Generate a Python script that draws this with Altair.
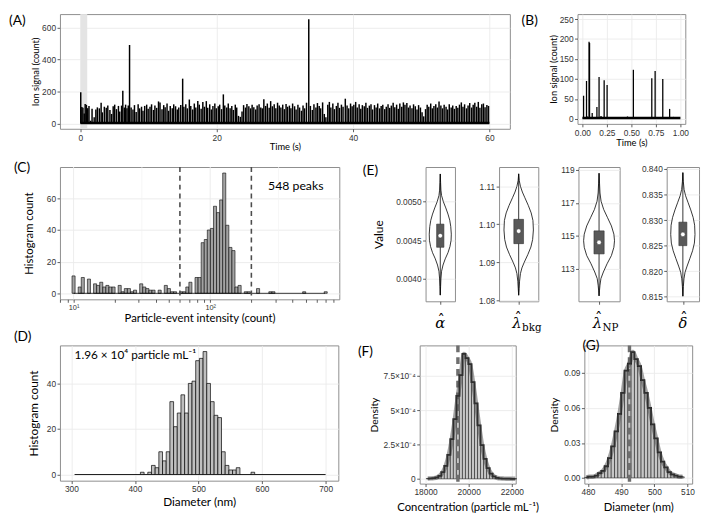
import altair as alt
import pandas as pd

TF = "Lato"
LF = "Liberation Sans"
SF = "DejaVu Serif"

# ---------------- (A) time trace ----------------
a_spikes_00_10 = [
    (0.05, 195), (0.21, 104), (0.37, 98), (0.56, 62), (0.70, 122), (0.88, 117),
    (1.07, 96), (1.26, 110), (1.49, 18), (1.71, 92), (2.02, 40), (2.27, 88),
    (2.49, 101), (2.78, 95), (3.04, 130), (3.22, 70), (3.51, 105), (3.79, 98),
    (4.02, 112), (4.33, 85), (4.57, 60), (4.81, 108), (5.03, 118), (5.29, 90),
    (5.58, 110), (5.77, 75), (6.04, 112), (6.22, 205), (6.45, 100), (6.63, 118),
    (6.83, 95), (7.02, 112), (7.21, 490), (7.44, 100), (7.71, 88), (7.93, 115),
    (8.18, 72), (8.47, 120), (8.69, 95), (8.97, 105), (9.18, 80), (9.43, 110),
    (9.72, 118), (9.94, 92)]
a_spikes_10_20 = [
    (10.21, 105), (10.44, 120), (10.72, 85), (10.93, 112), (11.19, 98), (11.46, 138),
    (11.68, 132), (11.97, 90), (12.22, 115), (12.43, 102), (12.71, 125), (12.94, 80),
    (13.18, 110), (13.47, 95), (13.69, 120), (13.96, 108), (14.21, 88), (14.43, 100),
    (14.72, 115), (15.00, 280), (15.18, 105), (15.46, 120), (15.69, 95), (15.98, 150),
    (16.19, 110), (16.47, 88), (16.71, 125), (16.93, 100), (17.22, 140), (17.44, 118),
    (17.71, 92), (17.96, 135), (18.19, 105), (18.47, 140), (18.68, 98), (18.97, 120),
    (19.21, 88), (19.44, 110), (19.72, 125), (19.93, 95)]
a_spikes_20_30 = [
    (20.22, 108), (20.43, 118), (20.71, 90), (20.97, 182), (21.18, 112), (21.47, 100),
    (21.69, 125), (21.96, 95), (22.21, 110), (22.44, 85), (22.72, 118), (22.93, 100),
    (23.19, 48), (23.46, 42), (23.71, 75), (23.94, 115), (24.22, 100), (24.43, 122),
    (24.71, 108), (24.97, 95), (25.19, 118), (25.44, 102), (25.72, 88), (25.93, 112),
    (26.21, 120), (26.46, 100), (26.68, 95), (26.91, 152), (27.17, 110), (27.42, 125),
    (27.69, 98), (27.91, 140), (28.16, 108), (28.43, 120), (28.67, 95), (28.92, 130),
    (29.17, 112), (29.41, 100), (29.68, 118), (29.92, 90)]
a_spikes_30_40 = [
    (30.17, 122), (30.39, 105), (30.66, 112), (30.88, 95), (31.13, 125), (31.42, 108),
    (31.64, 88), (31.91, 118), (32.15, 100), (32.43, 80), (32.66, 112), (32.89, 95),
    (33.17, 130), (33.50, 650), (33.74, 110), (34.02, 85), (34.26, 120), (34.55, 100),
    (34.77, 128), (35.03, 110), (35.24, 95), (35.53, 132), (35.78, 60), (36.01, 40),
    (36.29, 118), (36.52, 135), (36.74, 100), (37.03, 125), (37.26, 90), (37.55, 110),
    (37.78, 130), (38.01, 98), (38.29, 118), (38.53, 105), (38.86, 155), (39.12, 112),
    (39.36, 95), (39.63, 125), (39.86, 108)]
a_spikes_40_50 = [
    (40.11, 118), (40.38, 135), (40.61, 100), (40.89, 120), (41.13, 92), (41.36, 115),
    (41.64, 108), (41.88, 130), (42.11, 98), (42.39, 112), (42.63, 120), (42.86, 88),
    (43.14, 115), (43.38, 100), (43.61, 125), (43.89, 95), (44.12, 110), (44.36, 118),
    (44.64, 90), (44.87, 105), (45.13, 120), (45.37, 98), (45.61, 112), (45.88, 130),
    (46.12, 102), (46.39, 118), (46.63, 92), (46.86, 125), (47.14, 105), (47.38, 132),
    (47.61, 118), (47.89, 128), (48.12, 100), (48.36, 112), (48.64, 95), (48.87, 120),
    (49.13, 108), (49.38, 88), (49.61, 115), (49.88, 100)]
a_spikes_50_60 = [
    (50.12, 70), (50.36, 45), (50.63, 90), (50.87, 118), (51.11, 105), (51.39, 125),
    (51.62, 95), (51.86, 110), (52.13, 120), (52.37, 100), (52.61, 138), (52.88, 112),
    (53.12, 95), (53.36, 118), (53.64, 105), (53.87, 88), (54.11, 120), (54.39, 100),
    (54.62, 112), (54.86, 92), (55.13, 110), (55.37, 98), (55.61, 118), (55.88, 132),
    (56.12, 105), (56.36, 120), (56.64, 95), (56.87, 112), (57.11, 128), (57.39, 100),
    (57.62, 118), (57.86, 130), (58.13, 105), (58.37, 135), (58.61, 98), (58.88, 120),
    (59.12, 125), (59.36, 102), (59.63, 115), (59.87, 110)]
a_background = 3
a_window = [0.0, 1.0]
a_span = [0, 60]
a_x_ticks = [0, 20, 40, 60]
a_y_ticks = [0, 200, 400, 600]

# ---------------- (B) first second ----------------
b_spikes = [
    (0.012, 58), (0.042, 95), (0.068, 193), (0.073, 190), (0.100, 15), (0.148, 30),
    (0.170, 105), (0.222, 97), (0.252, 85), (0.520, 123), (0.708, 102), (0.742, 120),
    (0.820, 100), (0.862, 5), (0.890, 25),
    (0.05, 6), (0.13, 5), (0.19, 7), (0.28, 5), (0.30, 4), (0.35, 3), (0.40, 4),
    (0.46, 6), (0.58, 4), (0.63, 5), (0.68, 3), (0.78, 4), (0.93, 5), (0.97, 4)]
b_background = 2
b_span = [0, 1]
b_x_ticks = [0, 0.25, 0.5, 0.75, 1.0]
b_y_ticks = [0, 50, 100, 150, 200, 250]

# ---------------- (C) intensity histogram (log bins) ----------------
c_bin_index = [0, 2, 3, 5, 7, 8, 9, 10, 11, 12, 13, 15, 16, 17, 18, 19, 20, 22, 23, 24,
               25, 26, 28, 30, 31, 32, 33, 35, 36, 37, 38, 40, 41, 42, 43, 44, 45, 46, 47, 48,
               49, 50, 51, 52, 53, 54, 56, 57, 60, 64, 65, 75, 82]
c_counts = [11, 4, 10, 9, 6, 5, 7, 4, 5, 4, 4, 5, 1, 3, 3, 1, 2, 6, 4, 3,
            2, 2, 2, 5, 3, 1, 1, 1, 1, 4, 7, 10, 10, 32, 34, 40, 41, 55, 51, 59,
            76, 43, 29, 27, 4, 5, 1, 1, 3, 1, 1, 1, 1]
c_log_binwidth = 0.0225
c_log_first_center = 1.0
c_cutoffs = [60, 200]
c_span = [10, 690]
c_major_grid = [10, 100]
c_minor_grid = [31.62, 316.2]
c_x_ticks = [8, 9, 10, 20, 30, 40, 50, 60, 70, 80, 90, 100, 200, 300, 400, 500, 600, 700, 800]
c_y_ticks = [0, 20, 40, 60]
c_note = "548 peaks"
c_note_at = [265, 68]

# ---------------- (D) diameter histogram ----------------
d_bin_centers = [411.5, 423.1, 428.9, 434.7, 440.5, 446.3, 452.1, 457.9, 463.7, 469.5,
                 475.3, 481.1, 486.9, 492.7, 498.5, 504.3, 510.1, 515.9, 521.7, 527.5,
                 533.3, 539.1, 544.9, 550.7, 556.5, 562.3, 585.5]
d_counts = [1, 1, 4, 3, 10, 6, 10, 32, 21, 27, 35, 27, 40, 41, 50, 51, 54, 40, 32, 26,
            25, 10, 4, 2, 2, 3, 1]
d_binwidth = 5.8
d_span = [305, 700]
d_x_ticks = [300, 400, 500, 600, 700]
d_y_ticks = [0, 20, 40]
d_note = "1.96 × 10⁴ particle mL⁻¹"
d_note_at = [305, 52.5]

# ---------------- (E) posterior violins ----------------
e1_value = [0.00379, 0.00390, 0.00400, 0.00410, 0.00418, 0.00426, 0.00434, 0.00442, 0.00450,
            0.00458, 0.00468, 0.00476, 0.00484, 0.00492, 0.00500, 0.00508, 0.00515, 0.00525, 0.00536]
e1_width = [0.0, 0.03, 0.06, 0.12, 0.25, 0.45, 0.70, 0.88, 0.98,
            1.00, 0.95, 0.86, 0.70, 0.50, 0.28, 0.12, 0.06, 0.03, 0.0]
e2_value = [1.0813, 1.0830, 1.0850, 1.0870, 1.0885, 1.0900, 1.0920, 1.0940, 1.0960,
            1.0985, 1.1010, 1.1030, 1.1050, 1.1070, 1.1085, 1.1100, 1.1115, 1.1133]
e2_width = [0.0, 0.03, 0.06, 0.12, 0.22, 0.38, 0.62, 0.83, 0.95,
            1.00, 0.97, 0.85, 0.65, 0.42, 0.25, 0.12, 0.04, 0.0]
e3_value = [111.35, 111.7, 112.0, 112.4, 112.8, 113.3, 113.8, 114.3, 114.7,
            115.1, 115.6, 116.1, 116.6, 117.1, 117.6, 118.2, 118.8]
e3_width = [0.0, 0.03, 0.06, 0.12, 0.28, 0.52, 0.80, 0.96, 1.00,
            0.96, 0.80, 0.55, 0.30, 0.13, 0.06, 0.03, 0.0]
e4_value = [0.8151, 0.8170, 0.8185, 0.8198, 0.8210, 0.8225, 0.8240, 0.8255, 0.8272,
            0.8290, 0.8305, 0.8320, 0.8335, 0.8348, 0.8360, 0.8375, 0.8393]
e4_width = [0.0, 0.04, 0.09, 0.18, 0.35, 0.58, 0.80, 0.95, 1.00,
            0.97, 0.85, 0.65, 0.42, 0.22, 0.10, 0.04, 0.0]
e_min = [0.00379, 1.0813, 111.35, 0.8151]
e_q1 = [0.00441, 1.0949, 113.9, 0.8250]
e_median = [0.00456, 1.0982, 114.6, 0.8272]
e_q3 = [0.00471, 1.1013, 115.3, 0.8296]
e_max = [0.00536, 1.1133, 118.8, 0.8393]
e_symbol = ["α", "λ", "λ", "δ"]
e_subscript = ["", "bkg", "NP", ""]
e_y_domain = [[0.00371, 0.00545], [1.0797, 1.1151], [111.02, 119.18], [0.8141, 0.8404]]
e_y_ticks = [[0.0040, 0.0045, 0.0050], [1.08, 1.09, 1.10, 1.11], [113, 115, 117, 119],
             [0.815, 0.820, 0.825, 0.830, 0.835, 0.840]]
e_y_format = [".4f", ".2f", "d", ".3f"]

# ---------------- (F) concentration posterior ----------------
f_bin_centers = [18100, 18240, 18380, 18520, 18660, 18800, 18940, 19080, 19220, 19360,
                 19500, 19640, 19780, 19920, 20060, 20200, 20340, 20480, 20620, 20760,
                 20900, 21040, 21180, 21320, 21460, 21600, 21740, 21880, 22020, 22160]
f_density_e4 = [0.02, 0.03, 0.05, 0.10, 0.22, 0.48, 0.95, 1.75, 2.90, 4.35,
                6.05, 7.55, 9.10, 8.80, 8.35, 7.05, 5.50, 3.90, 2.45, 1.45,
                0.78, 0.38, 0.17, 0.07, 0.03, 0.02, 0.01, 0.01, 0.00, 0.00]
f_binwidth = 140
f_estimate = 19500
f_x_ticks = [18000, 20000, 22000]
f_y_ticks = [0, 0.00025, 0.0005, 0.00075]

# ---------------- (G) diameter posterior ----------------
g_bin_centers = [479.5, 480.5, 481.5, 482.5, 483.5, 484.5, 485.5, 486.5, 487.5, 488.5,
                 489.5, 490.5, 491.5, 492.5, 493.5, 494.5, 495.5, 496.5, 497.5, 498.5,
                 499.5, 500.5, 501.5, 502.5, 503.5, 504.5, 505.5, 506.5, 507.5, 508.5]
g_density = [0.0005, 0.001, 0.001, 0.002, 0.004, 0.006, 0.010, 0.017, 0.027, 0.040,
             0.055, 0.073, 0.092, 0.098, 0.108, 0.102, 0.096, 0.084, 0.073, 0.060,
             0.046, 0.034, 0.022, 0.014, 0.009, 0.005, 0.003, 0.002, 0.001, 0.001]
g_binwidth = 1.0
g_estimate = 492.5
g_x_ticks = [480, 490, 500, 510]
g_y_ticks = [0, 0.03, 0.06, 0.09]

# ======================================================================
ONE = [{"k": 0}]


def ax(title, values, tsize=11.5, tpad=2, lsize=8.5, **kw):
    p = dict(values=values, tickCount=len(values) + 1, tickSize=3, tickColor="#333333",
             tickWidth=0.8, labelFont=LF, labelFontSize=lsize, labelColor="#333333",
             labelPadding=1.5, labelOverlap=False, labelFlush=False,
             domain=False, grid=True, gridColor="#ebebeb", gridWidth=0.9,
             titleFont=TF, titleFontSize=tsize, titleFontWeight=400,
             titleColor="black", titlePadding=tpad)
    p.update(kw)
    return alt.Axis(title=title, **p)


def box(x0, x1, y0, y1):
    # invisible layout cell that fixes each panel's footprint in the concatenation
    return alt.Chart(alt.Data(values=ONE)).mark_rect(opacity=0).encode(
        x=alt.value(x0), x2=alt.value(x1), y=alt.value(y0), y2=alt.value(y1))


def tag(txt_, dx, dy):
    return alt.Chart(alt.Data(values=ONE)).mark_text(
        text=txt_, align="left", baseline="top", font=TF, fontSize=14, color="black"
    ).encode(x=alt.value(dx), y=alt.value(dy))


def txt(s, x, y, align="left", font=TF, size=12, style="normal"):
    return alt.Chart(alt.Data(values=ONE)).mark_text(
        text=s, align=align, baseline="alphabetic", font=font, fontSize=size,
        fontStyle=style, color="black").encode(x=alt.value(x), y=alt.value(y))


# ---------------- panel A ----------------
A_W, A_H = 459, 117
dfA = pd.DataFrame(a_spikes_00_10 + a_spikes_10_20 + a_spikes_20_30 + a_spikes_30_40
                   + a_spikes_40_50 + a_spikes_50_60, columns=["t", "h"])
dfA["z"] = 0
sxA = alt.Scale(domain=[-3, 63], nice=False, zero=False)
syA = alt.Scale(domain=[-32.5, 682.5], nice=False, zero=False)
A_win = alt.Chart(pd.DataFrame({"t": [a_window[0]], "t2": [a_window[1]]})).mark_rect(
    color="#e4e4e4").encode(
    x=alt.X("t:Q", scale=sxA, axis=ax("Time (s)", a_x_ticks, tsize=9.5, tpad=0)),
    x2="t2:Q")
A_spk = alt.Chart(dfA).mark_rule(color="black", strokeWidth=1.5).encode(
    x=alt.X("t:Q", scale=sxA),
    y=alt.Y("z:Q", scale=syA, axis=ax("Ion signal (count)", a_y_ticks, tsize=9.5, tpad=1)),
    y2="h:Q")
A_bg = alt.Chart(pd.DataFrame({"t": [a_span[0]], "t2": [a_span[1]], "h": [a_background]})).mark_rule(
    color="black", strokeWidth=2.5).encode(
    x=alt.X("t:Q", scale=sxA), x2="t2:Q", y=alt.Y("h:Q", scale=syA))
panelA = alt.layer(box(-52, 469, 0, 152), A_win, A_spk, A_bg, tag("(A)", -52, 0)).properties(
    width=A_W, height=A_H)

# ---------------- panel B ----------------
B_W, B_H = 110, 112
dfB = pd.DataFrame(b_spikes, columns=["t", "h"])
dfB["z"] = 0
sxB = alt.Scale(domain=[-0.05, 1.05], nice=False, zero=False)
syB = alt.Scale(domain=[-12.5, 262.5], nice=False, zero=False)
B_spk = alt.Chart(dfB).mark_rule(color="black", strokeWidth=1.3).encode(
    x=alt.X("t:Q", scale=sxB, axis=ax("Time (s)", b_x_ticks, tsize=9.5, tpad=1, format=".2f")),
    y=alt.Y("z:Q", scale=syB, axis=ax("Ion signal (count)", b_y_ticks, tsize=9.5, tpad=1)),
    y2="h:Q")
B_bg = alt.Chart(pd.DataFrame({"t": [b_span[0]], "t2": [b_span[1]], "h": [b_background]})).mark_rule(
    color="black", strokeWidth=2.5).encode(
    x=alt.X("t:Q", scale=sxB), x2="t2:Q", y=alt.Y("h:Q", scale=syB))
panelB = alt.layer(box(-57, 114, 0, 152), B_spk, B_bg, tag("(B)", -57, 0)).properties(
    width=B_W, height=B_H)

# ---------------- panel C ----------------
C_W, C_H = 285, 135
dfC = pd.DataFrame({"k": c_bin_index, "n": c_counts})
dfC["lo"] = 10 ** (c_log_first_center + dfC["k"] * c_log_binwidth - c_log_binwidth / 2)
dfC["hi"] = 10 ** (c_log_first_center + dfC["k"] * c_log_binwidth + c_log_binwidth / 2)
dfC["z"] = 0
sxC = alt.Scale(type="log", domain=[7.95, 880], nice=False)
syC = alt.Scale(domain=[-3.8, 79.8], nice=False, zero=False)
c_lab = "datum.value == 10 ? '10¹' : (datum.value == 100 ? '10²' : '')"
C_minor = alt.Chart(pd.DataFrame({"g": c_minor_grid})).mark_rule(color="#f2f2f2", strokeWidth=0.7).encode(
    x=alt.X("g:Q", scale=sxC, axis=ax("Particle-event intensity (count)", c_x_ticks, tsize=11.5,
                                      tpad=2, lsize=7.5, grid=False, labelExpr=c_lab)))
C_major = alt.Chart(pd.DataFrame({"g": c_major_grid})).mark_rule(color="#ebebeb", strokeWidth=0.9).encode(
    x=alt.X("g:Q", scale=sxC))
C_bars = alt.Chart(dfC).mark_rect(fill="#a3a3a3", stroke="black", strokeWidth=0.6).encode(
    x=alt.X("lo:Q", scale=sxC), x2="hi:Q",
    y=alt.Y("z:Q", scale=syC, axis=ax("Histogram count", c_y_ticks, tsize=11.5, tpad=12)),
    y2="n:Q")
C_base = alt.Chart(pd.DataFrame({"g": [c_span[0]], "g2": [c_span[1]], "z": [0]})).mark_rule(
    color="black", strokeWidth=0.8).encode(x=alt.X("g:Q", scale=sxC), x2="g2:Q", y=alt.Y("z:Q", scale=syC))
C_cut = alt.Chart(pd.DataFrame({"g": c_cutoffs})).mark_rule(
    color="#4d4d4d", strokeWidth=1.6, strokeDash=[5, 4]).encode(x=alt.X("g:Q", scale=sxC))
C_txt = alt.Chart(pd.DataFrame({"g": [c_note_at[0]], "z": [c_note_at[1]], "s": [c_note]})).mark_text(
    align="left", baseline="middle", font=TF, fontSize=12.5, color="black").encode(
    x=alt.X("g:Q", scale=sxC), y=alt.Y("z:Q", scale=syC), text="s:N")
panelC = alt.layer(box(-47, 290, -12, 170), C_minor, C_major, C_bars, C_base, C_cut, C_txt,
                   tag("(C)", -47, -6)).properties(width=C_W, height=C_H)

# ---------------- panel D ----------------
D_W, D_H = 284, 138
dfD = pd.DataFrame({"c": d_bin_centers, "n": d_counts})
dfD["lo"] = dfD["c"] - d_binwidth / 2
dfD["hi"] = dfD["c"] + d_binwidth / 2
dfD["z"] = 0
sxD = alt.Scale(domain=[282, 720], nice=False, zero=False)
syD = alt.Scale(domain=[-2.7, 56.7], nice=False, zero=False)
D_base = alt.Chart(pd.DataFrame({"g": [d_span[0]], "g2": [d_span[1]], "z": [0]})).mark_rule(
    color="black", strokeWidth=0.9).encode(
    x=alt.X("g:Q", scale=sxD, axis=ax("Diameter (nm)", d_x_ticks, tsize=12, tpad=3)),
    x2="g2:Q", y=alt.Y("z:Q", scale=syD))
D_bars = alt.Chart(dfD).mark_rect(fill="#bfbfbf", stroke="black", strokeWidth=0.7).encode(
    x=alt.X("lo:Q", scale=sxD), x2="hi:Q",
    y=alt.Y("z:Q", scale=syD, axis=ax("Histogram count", d_y_ticks, tsize=12, tpad=6)),
    y2="n:Q")
D_txt = alt.Chart(pd.DataFrame({"g": [d_note_at[0]], "z": [d_note_at[1]], "s": [d_note]})).mark_text(
    align="left", baseline="middle", font=TF, fontSize=12, color="black").encode(
    x=alt.X("g:Q", scale=sxD), y=alt.Y("z:Q", scale=syD), text="s:N")
panelD = alt.layer(box(-47, 290, -17, 168), D_base, D_bars, D_txt, tag("(D)", -47, -16)).properties(
    width=D_W, height=D_H)

# ---------------- panels E ----------------
E_H = 137
e_frames_w = [30, 40, 42, 33]
e_boxes = [(-81, 34), (-39, 46), (-33, 47), (-41, 34)]
e_vals = [(e1_value, e1_width), (e2_value, e2_width), (e3_value, e3_width), (e4_value, e4_width)]
e_panels = []
for i in range(4):
    fw = e_frames_w[i]
    vals, wids = e_vals[i]
    dfV = pd.DataFrame({"v": vals, "w": wids})
    dfV["wl"] = -dfV["w"]
    sxE = alt.Scale(domain=[-1.333, 1.333], nice=False, zero=False)
    syE = alt.Scale(domain=e_y_domain[i], nice=False, zero=False)
    ytitle = "Value" if i == 0 else None
    y_ax = ax(ytitle, e_y_ticks[i], tsize=12, tpad=10, format=e_y_format[i])
    x_ax = ax(None, [0], grid=False, labels=False)
    vio = alt.Chart(dfV).mark_area(orient="horizontal", fill="white", stroke="black",
                                   strokeWidth=0.8).encode(
        y=alt.Y("v:Q", scale=syE, axis=y_ax),
        x=alt.X("wl:Q", scale=sxE, axis=x_ax), x2="w:Q")
    st = pd.DataFrame({"x0": [-0.33], "x1": [0.33], "c": [0], "mn": [e_min[i]], "q1": [e_q1[i]],
                       "md": [e_median[i]], "q3": [e_q3[i]], "mx": [e_max[i]]})
    whisk = alt.Chart(st).mark_rule(color="black", strokeWidth=0.8).encode(
        x=alt.X("c:Q", scale=sxE), y=alt.Y("mn:Q", scale=syE), y2="mx:Q")
    bx = alt.Chart(st).mark_rect(fill="#595959", stroke="#333333", strokeWidth=0.6).encode(
        x=alt.X("x0:Q", scale=sxE), x2="x1:Q", y=alt.Y("q1:Q", scale=syE), y2="q3:Q")
    med = alt.Chart(st).mark_point(filled=True, fill="white", stroke="#333333", strokeWidth=0.5,
                                   size=22, opacity=1, shape="circle").encode(
        x=alt.X("c:Q", scale=sxE), y=alt.Y("md:Q", scale=syE))
    layers = [box(e_boxes[i][0], e_boxes[i][1], -9, 173), vio, whisk, bx, med]
    base_y = E_H + 27
    if e_subscript[i]:
        cx = fw / 2 + 3
        layers.append(txt(e_symbol[i], cx, base_y, align="right", font=SF, size=15, style="italic"))
        layers.append(txt("ˆ", cx - 3.5, base_y - 5, align="center", font=SF, size=15))
        layers.append(txt(e_subscript[i], cx + 0.5, base_y + 3, align="left", font=SF, size=10.5))
    else:
        cx = fw / 2
        layers.append(txt(e_symbol[i], cx, base_y, align="center", font=SF, size=15, style="italic"))
        layers.append(txt("ˆ", cx + 1, base_y - 3 if i == 0 else base_y - 5, align="center",
                          font=SF, size=15))
    if i == 0:
        layers.append(tag("(E)", -64, -3))
    e_panels.append(alt.layer(*layers).properties(width=fw, height=E_H))


# ---------------- panels F, G ----------------
def post_panel(centers, dens, bw, est, xdom, ydom, xticks, yticks, xtitle, w, h, bxr, tg, tgxy,
               ylab, xlab):
    df = pd.DataFrame({"c": centers, "d": dens})
    df["lo"] = df["c"] - bw / 2
    df["hi"] = df["c"] + bw / 2
    df["z"] = 0
    sx = alt.Scale(domain=xdom, nice=False, zero=False)
    sy = alt.Scale(domain=ydom, nice=False, zero=False)
    bars = alt.Chart(df).mark_rect(fill="#c6c6c6", stroke="black", strokeWidth=0.5).encode(
        x=alt.X("lo:Q", scale=sx, axis=ax(xtitle, xticks, tsize=11.5, tpad=5, **xlab)), x2="hi:Q",
        y=alt.Y("z:Q", scale=sy, axis=ax("Density", yticks, tsize=10.5, tpad=4, **ylab)), y2="d:Q")
    dash = alt.Chart(pd.DataFrame({"e": [est]})).mark_rule(
        color="#6e6e6e", strokeWidth=3.5, strokeDash=[7, 5]).encode(x=alt.X("e:Q", scale=sx))
    step = alt.Chart(df).mark_line(interpolate="step", color="black", strokeWidth=1.8).encode(
        x=alt.X("c:Q", scale=sx), y=alt.Y("d:Q", scale=sy))
    smooth = alt.Chart(df).mark_line(interpolate="monotone", color="#555555", strokeWidth=4.5,
                                     opacity=0.55).encode(
        x=alt.X("c:Q", scale=sx), y=alt.Y("d:Q", scale=sy))
    return alt.layer(box(bxr[0], bxr[1], bxr[2], bxr[3]), bars, dash, step, smooth,
                     tag(tg, tgxy[0], tgxy[1])).properties(width=w, height=h)


f_lab = dict(labelExpr="datum.value == 0 ? '0' : format(datum.value * 10000, '.2~f') + '×10⁻⁴'")
panelF = post_panel(f_bin_centers, [v * 1e-4 for v in f_density_e4], f_binwidth, f_estimate,
                    [17727, 22182], [-0.000035, 0.000972], f_x_ticks, f_y_ticks,
                    "Concentration (particle mL⁻¹)", 98, 141, (-75, 126, -8, 177), "(F)", (-63, 0),
                    f_lab, dict(format="d"))
panelG = post_panel(g_bin_centers, g_density, g_binwidth, g_estimate,
                    [478.9, 511.4], [-0.0049, 0.1137], g_x_ticks, g_y_ticks,
                    "Diameter (nm)", 110, 141, (-40, 114, -10, 175), "(G)", (-2, -6),
                    dict(format=".2f"), dict(format="d"))

row1 = alt.hconcat(panelA, panelB, spacing=0)
row2 = alt.hconcat(panelC, *e_panels, spacing=0)
row3 = alt.hconcat(panelD, panelF, panelG, spacing=0)

chart = alt.vconcat(row1, row2, row3, spacing=-10, padding=0).configure_view(
    stroke="#8c8c8c", strokeWidth=1).configure_axis(grid=False)

chart.save("out.html", embed_options={"renderer": "svg", "actions": False})
